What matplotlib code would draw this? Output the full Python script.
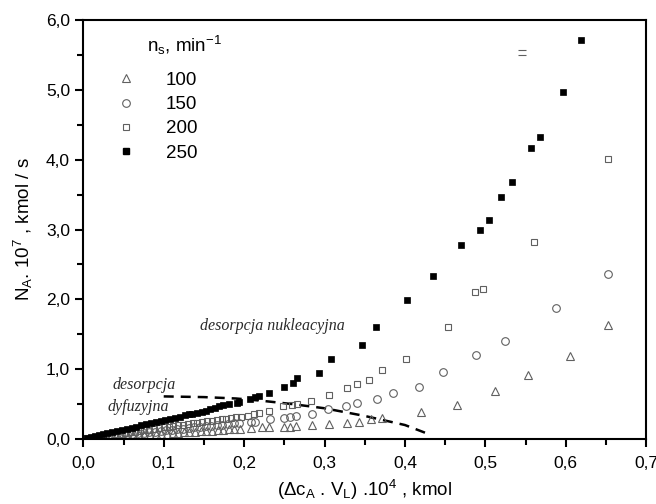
import numpy as np
import matplotlib.pyplot as plt
from matplotlib.ticker import MultipleLocator, FuncFormatter
from matplotlib.path import Path
from matplotlib.lines import Line2D

plt.rcParams['font.family'] = ['Liberation Sans', 'DejaVu Sans']
plt.rcParams['mathtext.fontset'] = 'custom'
plt.rcParams['mathtext.rm'] = 'Liberation Sans'
plt.rcParams['mathtext.it'] = 'Liberation Sans'

# n_s = 250 min^-1 (filled squares)
x250 = [0.005, 0.01, 0.015, 0.02, 0.025, 0.03, 0.036, 0.042, 0.048, 0.054, 0.06, 0.066, 0.072,
        0.078, 0.084, 0.09, 0.096, 0.102, 0.108, 0.114, 0.12, 0.126, 0.131, 0.135, 0.141, 0.147,
        0.153, 0.157, 0.164, 0.169, 0.174, 0.181, 0.191, 0.194, 0.207, 0.213, 0.219, 0.231, 0.250,
        0.261, 0.266, 0.293, 0.308, 0.347, 0.364, 0.403, 0.435, 0.470, 0.493, 0.504, 0.520, 0.533,
        0.557, 0.568, 0.596, 0.619]
y250 = [0.014, 0.027, 0.04, 0.054, 0.068, 0.08, 0.097, 0.113, 0.13, 0.146, 0.162, 0.178, 0.194,
        0.21, 0.227, 0.243, 0.259, 0.275, 0.29, 0.307, 0.32, 0.338, 0.352, 0.36, 0.37, 0.39,
        0.405, 0.43, 0.44, 0.47, 0.48, 0.50, 0.52, 0.535, 0.57, 0.60, 0.61, 0.66, 0.75,
        0.80, 0.88, 0.95, 1.14, 1.35, 1.60, 1.99, 2.33, 2.78, 3.00, 3.14, 3.46, 3.68,
        4.17, 4.32, 4.97, 5.71]

# n_s = 200 (open squares)
x200 = [0.005, 0.01, 0.016, 0.022, 0.028, 0.034, 0.04, 0.046, 0.052, 0.058, 0.064, 0.07, 0.076,
        0.082, 0.088, 0.094, 0.1, 0.106, 0.112, 0.118, 0.124, 0.13, 0.136, 0.142, 0.148, 0.154,
        0.16, 0.166, 0.172, 0.178, 0.184, 0.19, 0.196, 0.205, 0.212, 0.218, 0.231, 0.248, 0.259,
        0.266, 0.283, 0.306, 0.328, 0.341, 0.355, 0.372, 0.401, 0.453, 0.487, 0.497, 0.560, 0.653]
y200 = [0.008, 0.016, 0.026, 0.036, 0.046, 0.056, 0.066, 0.076, 0.086, 0.096, 0.106, 0.116, 0.125,
        0.135, 0.145, 0.155, 0.165, 0.175, 0.185, 0.195, 0.205, 0.214, 0.224, 0.234, 0.244, 0.254,
        0.264, 0.27, 0.28, 0.29, 0.30, 0.31, 0.32, 0.33, 0.36, 0.37, 0.405, 0.47, 0.49,
        0.50, 0.55, 0.63, 0.73, 0.79, 0.85, 0.99, 1.15, 1.61, 2.11, 2.15, 2.82, 4.01]

# n_s = 150 (open circles)
x150 = [0.005, 0.012, 0.019, 0.026, 0.033, 0.04, 0.047, 0.054, 0.061, 0.068, 0.075, 0.082, 0.089,
        0.096, 0.103, 0.11, 0.117, 0.124, 0.131, 0.138, 0.145, 0.152, 0.159, 0.166, 0.173, 0.18,
        0.188, 0.194, 0.209, 0.213, 0.232, 0.249, 0.257, 0.265, 0.285, 0.304, 0.327, 0.341, 0.365,
        0.385, 0.417, 0.447, 0.488, 0.525, 0.588, 0.653]
y150 = [0.006, 0.014, 0.023, 0.031, 0.04, 0.048, 0.056, 0.065, 0.073, 0.082, 0.09, 0.098, 0.107,
        0.115, 0.124, 0.132, 0.14, 0.149, 0.157, 0.166, 0.174, 0.182, 0.19, 0.2, 0.207, 0.215,
        0.225, 0.235, 0.25, 0.25, 0.28, 0.30, 0.32, 0.335, 0.36, 0.43, 0.47, 0.51, 0.57,
        0.655, 0.74, 0.955, 1.20, 1.41, 1.87, 2.36]

# n_s = 100 (open triangles)
x100 = [0.006, 0.013, 0.02, 0.027, 0.034, 0.041, 0.048, 0.055, 0.062, 0.069, 0.076, 0.083, 0.09,
        0.097, 0.104, 0.111, 0.118, 0.125, 0.132, 0.139, 0.146, 0.153, 0.16, 0.167, 0.174, 0.181,
        0.188, 0.195, 0.209, 0.222, 0.231, 0.249, 0.257, 0.265, 0.284, 0.306, 0.328, 0.343, 0.358,
        0.372, 0.420, 0.465, 0.512, 0.553, 0.605, 0.653]
y100 = [0.005, 0.01, 0.015, 0.02, 0.026, 0.031, 0.036, 0.041, 0.046, 0.052, 0.057, 0.062, 0.067,
        0.073, 0.078, 0.083, 0.088, 0.094, 0.099, 0.104, 0.109, 0.115, 0.12, 0.125, 0.13, 0.136,
        0.14, 0.145, 0.16, 0.165, 0.17, 0.175, 0.175, 0.18, 0.20, 0.22, 0.23, 0.24, 0.28,
        0.30, 0.39, 0.49, 0.69, 0.91, 1.19, 1.63]

# stray partial marker near the top
x_stray = [0.546]
y_stray = [5.55]

# dashed boundary between the two desorption regimes
x_dash = [0.10, 0.15, 0.19, 0.22, 0.26, 0.30, 0.35, 0.40, 0.425]
y_dash = [0.61, 0.60, 0.58, 0.55, 0.50, 0.44, 0.33, 0.20, 0.09]

grey = '#606060'

fig = plt.figure(figsize=(6.56, 5.04), dpi=100)
ax = fig.add_axes([0.127, 0.129, 0.858, 0.831])

ax.plot(x_dash, y_dash, ls=(0, (4, 2.8)), color='black', lw=1.8, zorder=1)
ax.plot(x100, y100, ls='none', marker='^', ms=6, mfc='none', mec=grey, mew=0.8)
ax.plot(x150, y150, ls='none', marker='o', ms=5.5, mfc='none', mec=grey, mew=0.8)
ax.plot(x200, y200, ls='none', marker='s', ms=4.8, mfc='none', mec=grey, mew=0.8)
ax.plot(x250, y250, ls='none', marker='s', ms=4.6, mfc='black', mec='black', mew=0.5)

eq = Path([(-1, 0.6), (1, 0.6), (-1, -0.6), (1, -0.6)],
          [Path.MOVETO, Path.LINETO, Path.MOVETO, Path.LINETO])
ax.plot(x_stray, y_stray, ls='none', marker=eq, ms=6, mec=grey, mew=0.8)

ax.set_xlim(0, 0.7)
ax.set_ylim(0, 6)
ax.xaxis.set_major_locator(MultipleLocator(0.1))
ax.xaxis.set_minor_locator(MultipleLocator(0.05))
ax.yaxis.set_major_locator(MultipleLocator(1.0))
ax.yaxis.set_minor_locator(MultipleLocator(0.5))
comma = FuncFormatter(lambda v, p: ('%.1f' % v).replace('.', ','))
ax.xaxis.set_major_formatter(comma)
ax.yaxis.set_major_formatter(comma)
ax.tick_params(which='major', direction='out', length=6, width=1.5, labelsize=12.5)
ax.tick_params(axis='x', which='major', pad=6)
ax.tick_params(axis='y', which='major', pad=3.5)
ax.tick_params(which='minor', direction='out', length=4, width=1.5)
for s in ax.spines.values():
    s.set_linewidth(1.5)

ax.set_xlabel(r'($\Delta$c$_\mathrm{A}$ . V$_\mathrm{L}$) .10$^4$ , kmol', fontsize=13.5, labelpad=5)
ax.set_ylabel(r'N$_\mathrm{A}$. 10$^7$ , kmol / s', fontsize=13.5, labelpad=8)

# legend
handles = [
    Line2D([], [], ls='none', marker='^', ms=6, mfc='none', mec=grey, mew=0.8),
    Line2D([], [], ls='none', marker='o', ms=5.5, mfc='none', mec=grey, mew=0.8),
    Line2D([], [], ls='none', marker='s', ms=4.8, mfc='none', mec=grey, mew=0.8),
    Line2D([], [], ls='none', marker='s', ms=4.6, mfc='black', mec='black'),
]
ax.legend(handles, ['100', '150', '200', '250'], loc='upper left', bbox_to_anchor=(0.03, 0.917),
          frameon=False, fontsize=13.5, handlelength=1.0, handletextpad=1.6, labelspacing=0.38)
ax.text(0.113, 0.925, r'n$_\mathrm{s}$, min$^{-1}$', transform=ax.transAxes, fontsize=13.5)

ax.text(0.145, 1.56, 'desorpcja nukleacyjna', fontsize=11.5, style='italic',
        family='Liberation Serif', color='#2a2a2a')
ax.text(0.036, 0.72, 'desorpcja', fontsize=11.5, style='italic',
        family='Liberation Serif', color='#2a2a2a')
ax.text(0.030, 0.40, 'dyfuzyjna', fontsize=11.5, style='italic',
        family='Liberation Serif', color='#2a2a2a')

plt.savefig('out.png', dpi=100)
